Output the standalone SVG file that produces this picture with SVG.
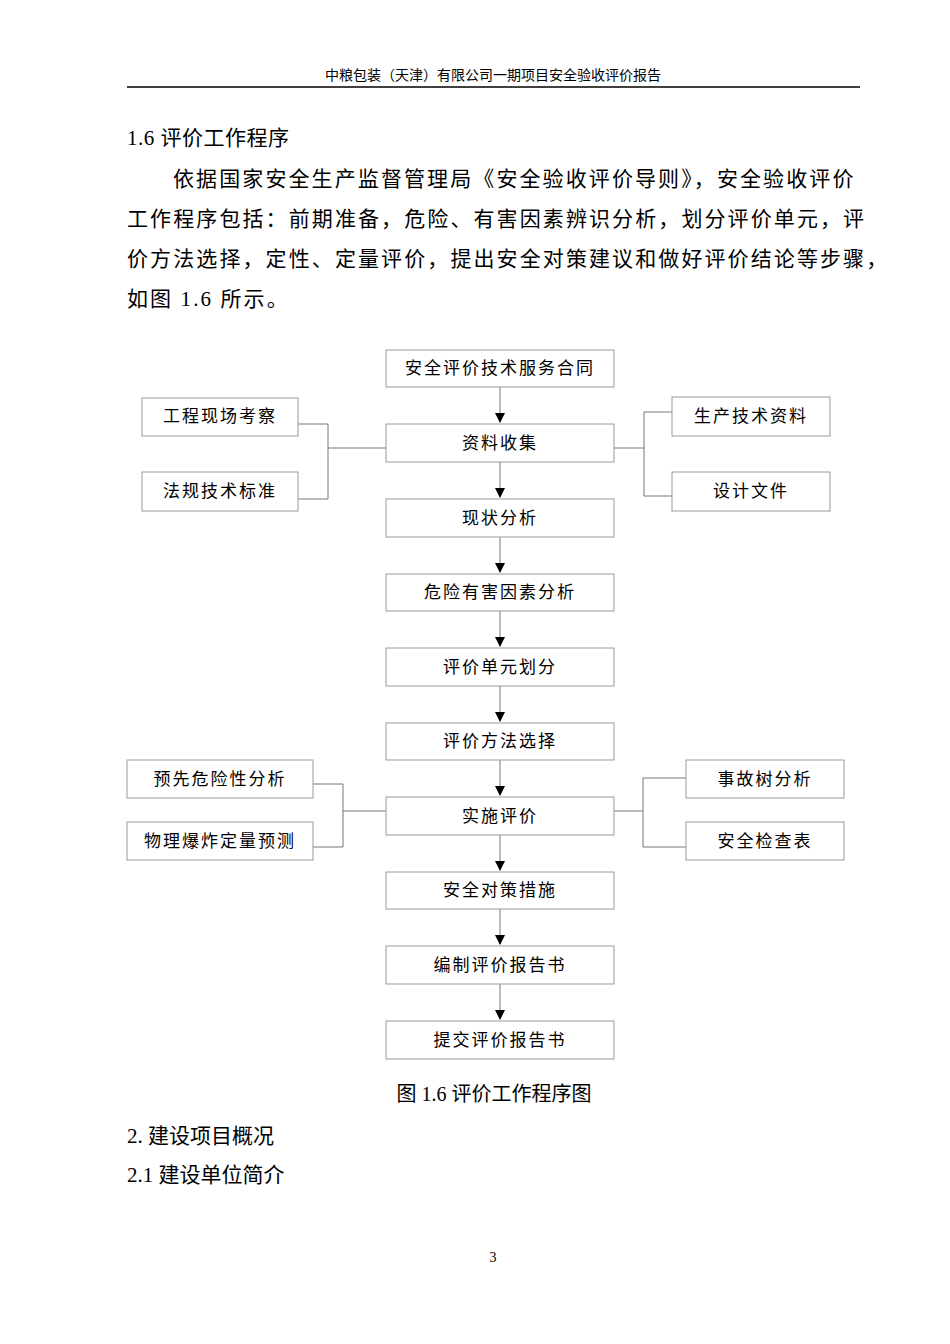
<svg xmlns="http://www.w3.org/2000/svg" width="950" height="1344" viewBox="0 0 950 1344">
<style>
.t{font-family:"Liberation Serif","Noto Sans CJK SC",serif;fill:#000}
.b rect{fill:#fff;stroke:#999;stroke-width:1}
.b text{font-family:"Liberation Serif","Noto Sans CJK SC",serif;font-size:17px;text-anchor:middle;fill:#000;letter-spacing:2px}
#c path{fill:none;stroke:#777;stroke-width:1}
</style>
<defs><marker id="a" markerWidth="10" markerHeight="10" refX="9" refY="5" orient="auto" markerUnits="userSpaceOnUse"><path d="M0,0L10,5L0,10z" fill="#000"/></marker></defs>
<rect width="950" height="1344" fill="#fff"/>
<text class="t" x="493" y="80" font-size="14" text-anchor="middle">中粮包装（天津）有限公司一期项目安全验收评价报告</text>
<line x1="127" y1="87" x2="860" y2="87" stroke="#000" stroke-width="1.5"/>
<text class="t" x="127" y="145" font-size="21" letter-spacing="0.5">1.6 评价工作程序</text>
<text class="t" font-size="21" letter-spacing="2.1"><tspan x="173" y="186">依据国家安全生产监督管理局《安全验收评价导则》，安全验收评价</tspan><tspan x="127" y="226">工作程序包括：前期准备，危险、有害因素辨识分析，划分评价单元，评</tspan><tspan x="127" y="266">价方法选择，定性、定量评价，提出安全对策建议和做好评价结论等步骤，</tspan><tspan x="127" y="306">如图 1.6 所示。</tspan></text>
<g id="c">
<path d="M500 387V422" marker-end="url(#a)"/>
<path d="M500 462V497" marker-end="url(#a)"/>
<path d="M500 537V572" marker-end="url(#a)"/>
<path d="M500 611V646" marker-end="url(#a)"/>
<path d="M500 686V721" marker-end="url(#a)"/>
<path d="M500 760V795" marker-end="url(#a)"/>
<path d="M500 835V870" marker-end="url(#a)"/>
<path d="M500 909V944" marker-end="url(#a)"/>
<path d="M500 984V1019" marker-end="url(#a)"/>
<path d="M298 424H328V499H298M328 448H386"/>
<path d="M672 412H644V496H672M644 448H614"/>
<path d="M313 784H343V847H313M343 811H386"/>
<path d="M686 778H643V847H686M643 811H614"/>
</g>
<g class="b">
<g id="n1"><rect x="386" y="350" width="228" height="37"/><text x="500" y="374">安全评价技术服务合同</text></g>
<g id="n2"><rect x="386" y="424" width="228" height="38"/><text x="500" y="449">资料收集</text></g>
<g id="n3"><rect x="386" y="499" width="228" height="38"/><text x="500" y="524">现状分析</text></g>
<g id="n4"><rect x="386" y="574" width="228" height="37"/><text x="500" y="598">危险有害因素分析</text></g>
<g id="n5"><rect x="386" y="648" width="228" height="38"/><text x="500" y="673">评价单元划分</text></g>
<g id="n6"><rect x="386" y="723" width="228" height="37"/><text x="500" y="747">评价方法选择</text></g>
<g id="n7"><rect x="386" y="797" width="228" height="38"/><text x="500" y="822">实施评价</text></g>
<g id="n8"><rect x="386" y="872" width="228" height="37"/><text x="500" y="896">安全对策措施</text></g>
<g id="n9"><rect x="386" y="946" width="228" height="38"/><text x="500" y="971">编制评价报告书</text></g>
<g id="n10"><rect x="386" y="1021" width="228" height="38"/><text x="500" y="1046">提交评价报告书</text></g>
<g id="l1"><rect x="142" y="398" width="156" height="38"/><text x="220" y="422">工程现场考察</text></g>
<g id="l2"><rect x="142" y="472" width="156" height="39"/><text x="220" y="497">法规技术标准</text></g>
<g id="r1"><rect x="672" y="397" width="158" height="39"/><text x="751" y="422">生产技术资料</text></g>
<g id="r2"><rect x="672" y="472" width="158" height="39"/><text x="751" y="497">设计文件</text></g>
<g id="l3"><rect x="127" y="760" width="186" height="38"/><text x="220" y="785">预先危险性分析</text></g>
<g id="l4"><rect x="127" y="822" width="186" height="38"/><text x="220" y="847">物理爆炸定量预测</text></g>
<g id="r3"><rect x="686" y="760" width="158" height="38"/><text x="765" y="785">事故树分析</text></g>
<g id="r4"><rect x="686" y="822" width="158" height="38"/><text x="765" y="847">安全检查表</text></g>
</g>
<text class="t" x="494" y="1101" font-size="20" text-anchor="middle">图 1.6 评价工作程序图</text>
<text class="t" x="127" y="1143" font-size="21">2. 建设项目概况</text>
<text class="t" x="127" y="1182" font-size="21">2.1 建设单位简介</text>
<text class="t" x="493" y="1262" font-size="14" text-anchor="middle">3</text>
</svg>
